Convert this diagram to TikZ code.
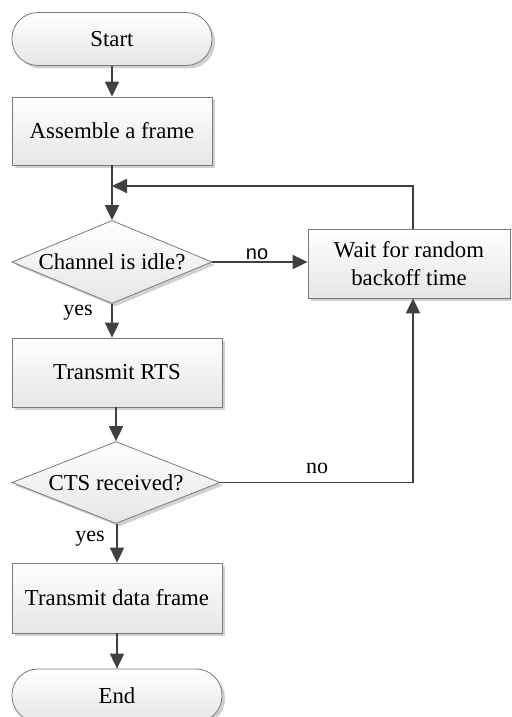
\documentclass[tikz,border=0pt]{standalone}
\usepackage{fontspec}
\setmainfont{Liberation Serif}
\newfontfamily\labsans{Liberation Sans}
\usetikzlibrary{shapes.geometric,arrows.meta,shadows}
\definecolor{linec}{HTML}{404040}
\definecolor{borderc}{HTML}{7A7A7A}
\definecolor{fillbot}{HTML}{E6E6E6}
\begin{document}
\begin{tikzpicture}[x=1pt,y=-1pt,
  font=\fontsize{22.8}{28}\selectfont,
  shape base/.style={draw=borderc, line width=0.8pt, top color=white, bottom color=fillbot,
    drop shadow={shadow xshift=3pt, shadow yshift=-3pt, fill=black, opacity=0.18}},
  procbox/.style={shape base, rectangle, inner sep=0pt, align=center},
  termbox/.style={shape base, rectangle, rounded corners=26pt, inner sep=0pt},
  decbox/.style={shape base, diamond, inner sep=0pt},
  conn/.style={draw=linec, line width=1.8pt},
  arr/.style={conn, -{Triangle[length=15pt,width=14pt]}},
  lab/.style={inner sep=0pt, font=\fontsize{22}{26}\selectfont}
]
\useasboundingbox (0,0) rectangle (511,717);
\clip (0,0) rectangle (511,717);
\fill[white] (0,0) rectangle (511,717);

% nodes
\node[termbox, minimum width=200pt, minimum height=53pt] (start) at (112,39) {Start};
\node[procbox, minimum width=200pt, minimum height=68pt] (asm) at (112,131) {Assemble a frame};
\coordinate (join) at (112,186);
\node[decbox, minimum width=200pt, minimum height=83pt] (d1) at (112,262) {};
\node[inner sep=0pt] (d1t) at (d1.center) {Channel is idle?};
\node[procbox, minimum width=202pt, minimum height=69pt] (wait) at (409,263.5) {Wait for random\\backoff time};
\node[procbox, minimum width=210pt, minimum height=69pt] (rts) at (117,372.5) {Transmit RTS};
\node[decbox, minimum width=208pt, minimum height=82pt] (d2) at (116,482.5) {};
\node[inner sep=0pt] (d2t) at (d2.center) {CTS received?};
\node[procbox, minimum width=210pt, minimum height=70pt] (data) at (117,598) {Transmit data frame};
\node[termbox, minimum width=210pt, minimum height=53pt] (end) at (117,695.5) {End};
\coordinate (waitup) at (413,186);
\coordinate (ctscorner) at (413,482.5);

% connectors
\draw[arr] (start) -- (asm);
\draw[conn] (asm.south) -- (join);
\draw[arr] (join) -- (d1.north);
\draw[arr] (wait.north -| waitup) -- (waitup) -- (join);
\draw[arr] (d1.east) -- (wait.west |- d1.east);
\draw[arr] (d1.south) -- (d1.south |- rts.north);
\draw[arr] (rts.south -| d2.north) -- (d2.north);
\draw[conn] (d2.east) -- (ctscorner);
\draw[arr] (ctscorner) -- (wait.south -| ctscorner);
\draw[arr] (d2.south -| data.north) -- (data.north);
\draw[arr] (data.south) -- (end.north);

% labels
\node[lab, font=\labsans\fontsize{20}{24}\selectfont] (no1) at (257,254) {no};
\node[lab] (yes1) at (78,313) {yes};
\node[lab] (no2) at (317,468) {no};
\node[lab] (yes2) at (90,539) {yes};
\end{tikzpicture}
\end{document}
